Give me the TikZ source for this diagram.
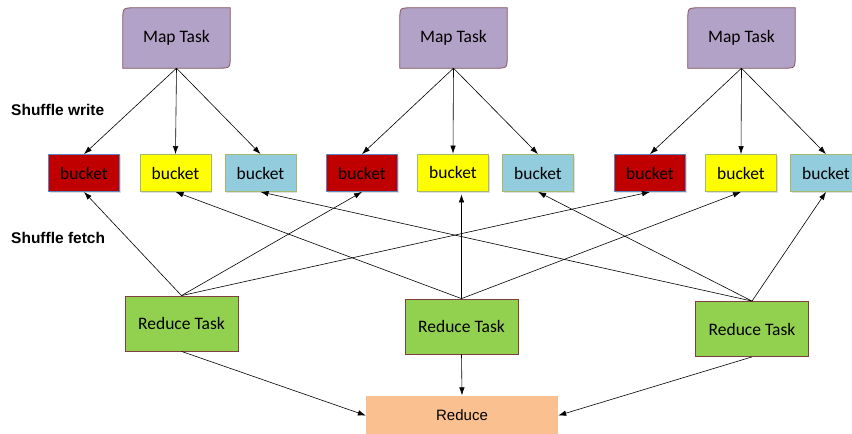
\documentclass[tikz,border=0pt]{standalone}
\usepackage{fontspec}
\setmainfont{Liberation Sans}
\newfontfamily\calib{Carlito}
\usetikzlibrary{arrows.meta,backgrounds,shadows}

\definecolor{mapfill}{HTML}{B3A2C7}
\definecolor{mapedge}{HTML}{7F4F5A}
\definecolor{bred}{HTML}{C00000}
\definecolor{byellow}{HTML}{FFFF00}
\definecolor{bblue}{HTML}{93CDDD}
\definecolor{redgeblue}{HTML}{5B86C0}
\definecolor{edgegreen}{HTML}{A5B96A}
\definecolor{redfill}{HTML}{92D050}
\definecolor{redEdge}{HTML}{7F3F3F}
\definecolor{finalfill}{HTML}{FAC090}

\tikzset{
  maptask/.style={minimum width=107pt, minimum height=60pt, inner sep=0pt,
    font=\calib\fontsize{17.5}{20}\selectfont},
  mapshape/.style={fill=mapfill, draw=mapedge, line width=0.8pt},
  bucketbox/.style={minimum width=71pt, minimum height=37pt, inner sep=0pt,
    line width=0.8pt, font=\calib\fontsize{17.5}{20}\selectfont,
    drop shadow={opacity=0.25, shadow xshift=1.2pt, shadow yshift=-1.5pt}},
  redbucket/.style={bucketbox, fill=bred, draw=redgeblue},
  yellowbucket/.style={bucketbox, fill=byellow, draw=edgegreen},
  bluebucket/.style={bucketbox, fill=bblue, draw=edgegreen},
  reducetask/.style={minimum width=113pt, minimum height=55pt, inner sep=0pt,
    fill=redfill, draw=redEdge, line width=0.8pt,
    font=\calib\fontsize{17.5}{20}\selectfont},
  finalbox/.style={minimum width=192pt, minimum height=40pt, inner sep=0pt,
    fill=finalfill, font=\fontsize{15}{18}\selectfont},
  phase/.style={anchor=west, inner sep=0pt, font=\bfseries\fontsize{15.5}{18}\selectfont},
  link/.style={-{Latex[length=8pt,width=5.5pt]}, line width=0.6pt, black},
}

\begin{document}
\begin{tikzpicture}[x=1pt, y=-1pt]
\useasboundingbox (0,0) rectangle (852,434);

% map tasks
\node[maptask] (m1) at (176.5,38) {Map Task};
\node[maptask] (m2) at (453.5,38) {Map Task};
\node[maptask] (m3) at (741.5,38) {Map Task};

% map outlines: rounded top-left and bottom-right corners
\begin{scope}[on background layer]
\foreach \m in {m1,m2,m3}{
  \path[mapshape] (\m.south west) -- ([yshift=-12pt]\m.north west)
    .. controls (\m.north west) .. ([xshift=12pt]\m.north west)
    -- (\m.north east) -- ([yshift=12pt]\m.south east)
    .. controls (\m.south east) .. ([xshift=-12pt]\m.south east) -- cycle;
}
\end{scope}

% phase labels
\node[phase] (sw) at (11,110) {Shuffle write};
\node[phase] (sf) at (11,238) {Shuffle fetch};

% buckets
\node[redbucket]    (b1) at (84,173)    {bucket};
\node[yellowbucket] (b2) at (175.5,173) {bucket};
\node[bluebucket]   (b3) at (260.5,173) {bucket};
\node[redbucket]    (b4) at (362,173)   {bucket};
\node[yellowbucket] (b5) at (453,172.5) {bucket};
\node[bluebucket]   (b6) at (538,173)   {bucket};
\node[redbucket]    (b7) at (650,173)   {bucket};
\node[yellowbucket] (b8) at (741,173)   {bucket};
\node[bluebucket]   (b9) at (826,173)   {bucket};

% reduce tasks
\node[reducetask] (r1) at (181.5,323.5) {Reduce Task};
\node[reducetask] (r2) at (461.5,326.5) {Reduce Task};
\node[reducetask] (r3) at (752,329)     {Reduce Task};

% final reduce
\node[finalbox] (rd) at (462,415.5) {Reduce};

% shuffle write
\foreach \m/\a/\b/\c in {m1/b1/b2/b3, m2/b4/b5/b6, m3/b7/b8/b9}{
  \draw[link] (\m.south) -- (\a.north);
  \draw[link] (\m.south) -- (\b.north);
  \draw[link] (\m.south) -- (\c.north);
}

% shuffle fetch
\foreach \r/\a/\c in {r1/b1/b7, r2/b2/b8, r3/b3/b9}{
  \draw[link] (\r.north) -- (\a.south);
  \draw[link] (\r.north) -- (\c.south);
}
\draw[link] (r1.north) -- (b4.south);
\draw[link] (r2.north) -- ([yshift=-3pt]r2.north |- b5.south);
\draw[link] (r3.north) -- (b6.south);

% merge
\draw[link] (r1.south) -- (rd.west);
\draw[link] (r2.south) -- (rd.north);
\draw[link] (r3.south) -- (rd.east);
\end{tikzpicture}
\end{document}
